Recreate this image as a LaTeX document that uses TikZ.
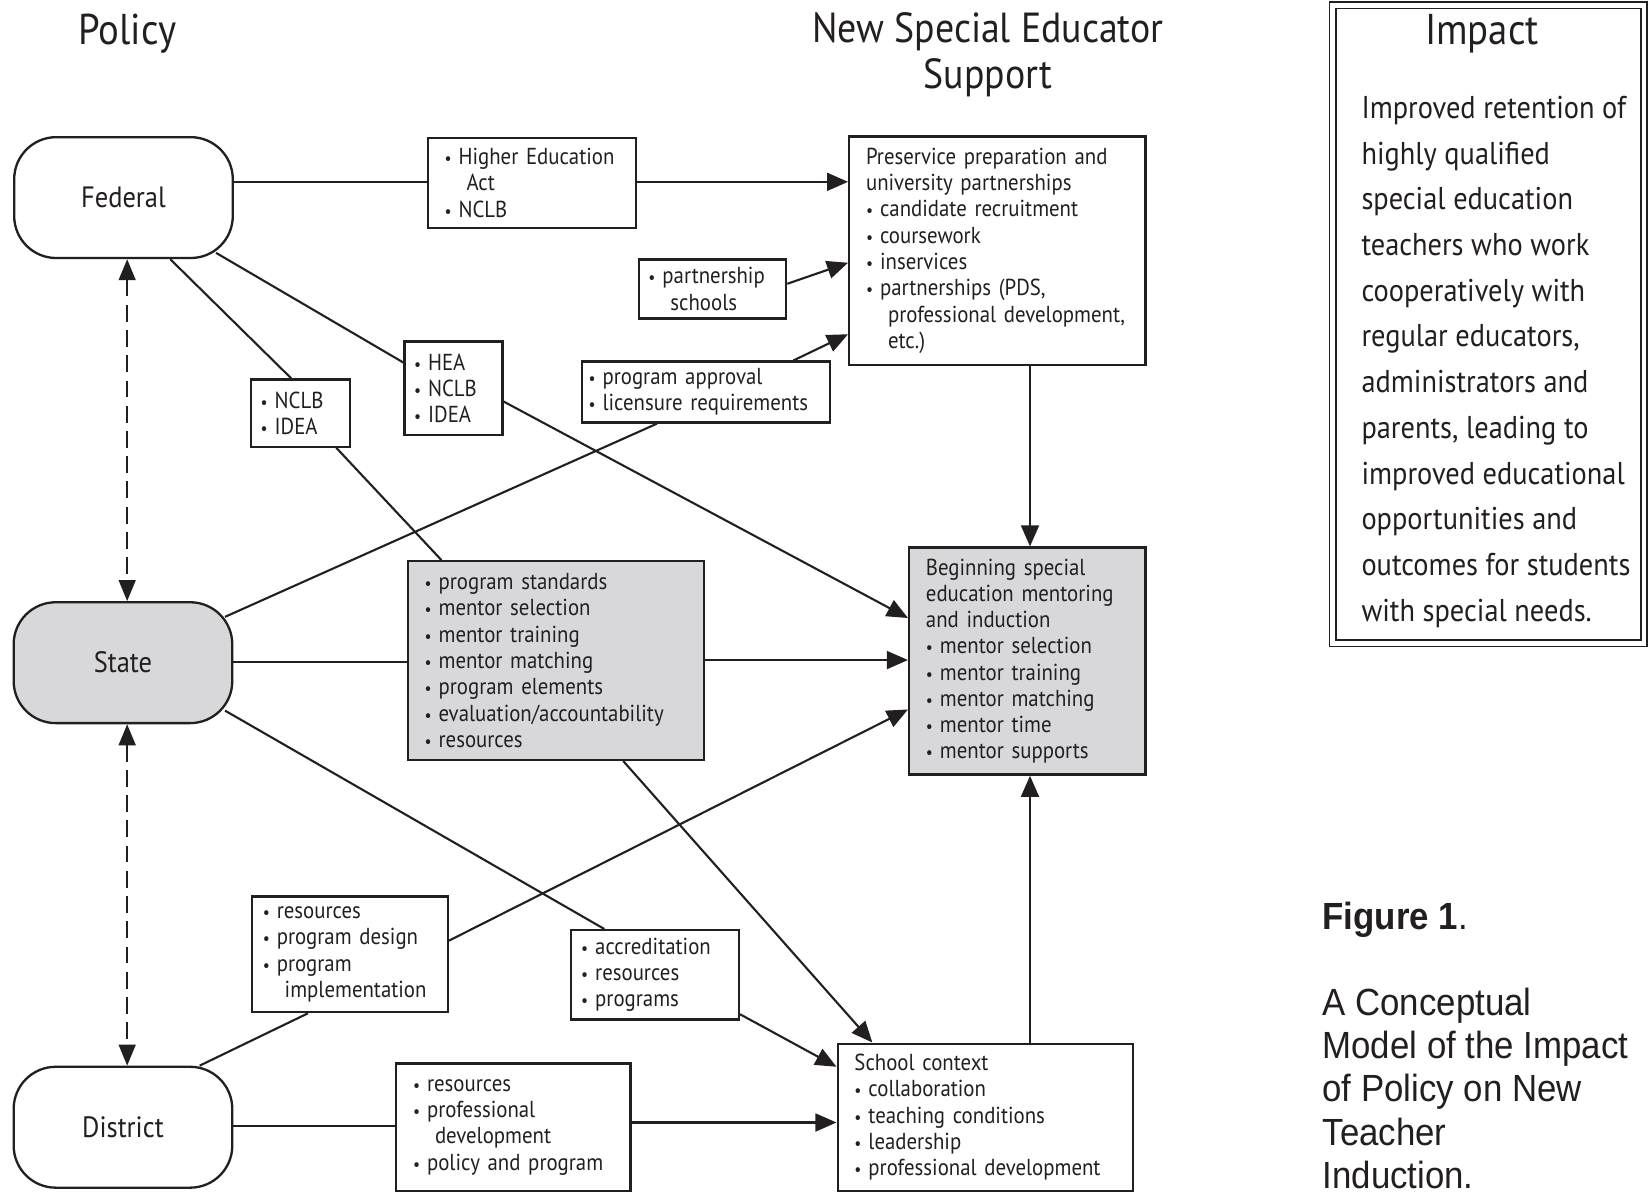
\documentclass[tikz,border=0pt]{standalone}
\usepackage{fontspec}
\usepackage{graphicx}
\setmainfont[FakeStretch=0.9]{PT Sans}
\newfontfamily\capfont[FakeStretch=0.92]{Liberation Sans}
\usetikzlibrary{arrows.meta,calc}
\definecolor{ink}{RGB}{35,31,32}
\definecolor{boxgray}{RGB}{216,216,219}
\newcommand{\bu}{{\scalebox{0.75}{\textbullet}}\hspace{0.3em}}
\newcommand{\ct}{\hspace*{0.95em}}
\begin{document}
\begin{tikzpicture}[x=0.5pt,y=-0.5pt,
  every node/.style={text=ink},
  lnk/.style={draw=ink,line width=1pt},
  arr/.style={lnk,-{Triangle[length=10pt,width=8.5pt]}},
  darr/.style={lnk,dash pattern=on 8pt off 4pt,{Triangle[length=10pt,width=8pt]}-{Triangle[length=10pt,width=8pt]}},
  ibox/.style={draw=ink,line width=1.1pt,fill=white,align=left,inner xsep=8pt,inner ysep=0pt,font=\fontsize{11}{12.5}\selectfont},
  level/.style={draw=ink,line width=1.1pt,rounded corners=20pt,fill=white,font=\fontsize{14}{16}\selectfont,minimum width=104pt,minimum height=57.5pt},
  title/.style={font=\fontsize{20.5}{22}\selectfont,align=center,inner sep=0pt},
]
\fill[white] (0,0) rectangle (1568,1135);
\useasboundingbox (0,0) rectangle (1568,1135);

% titles
\node[title] (tpol) at (121,32) {Policy};
\node[title,font=\fontsize{20}{22}\selectfont] (tnes) at (940,52) {New Special Educator\\Support};

% impact frame
\draw[ink,line width=0.8pt] (1265,2) rectangle (1567,615);
\draw[ink,line width=0.8pt] (1271,8) rectangle (1561,609);
\node[title] (timp) at (1410,32) {Impact};
\node[anchor=north west,inner sep=0pt,align=left,font=\fontsize{15}{21.75}\selectfont] (imptext) at (1295,91)
{Improved retention of\\highly qualified\\special education\\teachers who work\\cooperatively with\\regular educators,\\administrators and\\parents, leading to\\improved educational\\opportunities and\\outcomes for students\\with special needs.};

% levels
\node[level] (fed) at (117.5,188) {Federal};
\node[level,fill=boxgray] (state) at (117,630.5) {State};
\node[level] (dist) at (117,1072.5) {District};

% boxes
\node[ibox,text width=83pt,minimum height=43pt] (he) at (506,174)
{\bu Higher Education\\\ct Act\\\bu NCLB};
\node[ibox,text width=125pt,minimum height=108.5pt] (pre) at (949,238.5)
{Preservice preparation and\\university partnerships\\\bu candidate recruitment\\\bu coursework\\\bu inservices\\\bu partnerships (PDS,\\\ct professional development,\\\ct etc.)};
\node[ibox,inner xsep=4.5pt,text width=61pt,minimum height=28pt] (part) at (678,275)
{\bu partnership\\\ct schools};
\node[ibox,inner xsep=3pt,text width=112pt,minimum height=29pt] (pa) at (672,373)
{\bu program approval\\\bu licensure requirements};
\node[ibox,inner xsep=4.5pt,text width=38pt,minimum height=32pt] (ni) at (286,393)
{\bu NCLB\\\bu IDEA};
\node[ibox,inner xsep=4.5pt,text width=37.5pt,minimum height=44.5pt] (hea) at (431.5,369.5)
{\bu HEA\\\bu NCLB\\\bu IDEA};
\node[ibox,fill=boxgray,text width=125pt,minimum height=94.5pt] (gray) at (529,628.5)
{\bu program standards\\\bu mentor selection\\\bu mentor training\\\bu mentor matching\\\bu program elements\\\bu evaluation/accountability\\\bu resources};
\node[ibox,fill=boxgray,text width=96.5pt,minimum height=108pt] (beg) at (977.5,629)
{Beginning special\\education mentoring\\and induction\\\bu mentor selection\\\bu mentor training\\\bu mentor matching\\\bu mentor time\\\bu mentor supports};
\node[ibox,inner xsep=5pt,text width=70pt,minimum height=42.5pt] (acc) at (623,927.5)
{\bu accreditation\\\bu resources\\\bu programs};
\node[ibox,inner xsep=5pt,text width=83pt,minimum height=55pt] (resl) at (333,908)
{\bu resources\\\bu program design\\\bu program\\\ct implementation};
\node[ibox,text width=95.5pt,minimum height=60.5pt] (resd) at (488.5,1072.5)
{\bu resources\\\bu professional\\\ct development\\\bu policy and program};
\node[ibox,text width=124.5pt,minimum height=70pt] (sch) at (937.5,1063)
{School context\\\bu collaboration\\\bu teaching conditions\\\bu leadership\\\bu professional development};

% caption
\node[anchor=north west,inner sep=0pt,align=left,font=\capfont\fontsize{18}{20.5}\selectfont] (cap) at (1258,858)
{\textbf{Figure 1}.\\[20.5pt]A Conceptual\\Model of the Impact\\of Policy on New\\Teacher\\Induction.};

% connectors
\draw[lnk] (fed.east |- 0,173) -- (he.west |- 0,173);
\draw[arr] (he.east |- 0,173) -- (pre.west |- 0,173);
\draw[arr] (part.east |- 0,270) -- (pre.west |- 0,250);
\draw[arr] (pa.north -| 755,0) -- (pre.west |- 0,318);
\draw[lnk] ([shift={(-8,15)}]state.north east) -- (pa.south -| 625,0);
\draw[lnk] (fed.south -| 162,0) -- (ni.north -| 277,0);
\draw[lnk] (ni.south -| 320,0) -- (gray.north -| 420,0);
\draw[lnk] ([shift={(-17,-6)}]fed.south east) -- (hea.west |- 0,345);
\draw[arr] (hea.east |- 0,382) -- (beg.west |- 0,588);
\draw[lnk] (state.east |- 0,630) -- (gray.west |- 0,630);
\draw[arr] (gray.east |- 0,628) -- (beg.west |- 0,628);
\draw[arr] (pre.south -| 980,0) -- (beg.north -| 980,0);
\draw[arr] (sch.north -| 980,0) -- (beg.south -| 980,0);
\draw[arr] (gray.south -| 593,0) -- (sch.north -| 830,0);
\draw[lnk] ([shift={(-8,-13)}]state.south east) -- (acc.north -| 575,0);
\draw[arr] (acc.east |- 0,965) -- (sch.west |- 0,1015);
\draw[lnk] (dist.north -| 190,0) -- (resl.south -| 293,0);
\draw[arr] (resl.east |- 0,895) -- (beg.west |- 0,675);
\draw[lnk] (dist.east |- 0,1071) -- (resd.west |- 0,1071);
\draw[arr] (resd.east |- 0,1068) -- (sch.west |- 0,1068);
\draw[darr] (fed.south -| 121,0) -- (state.north -| 121,0);
\draw[darr] (state.south -| 121,0) -- (dist.north -| 121,0);
\end{tikzpicture}
\end{document}
